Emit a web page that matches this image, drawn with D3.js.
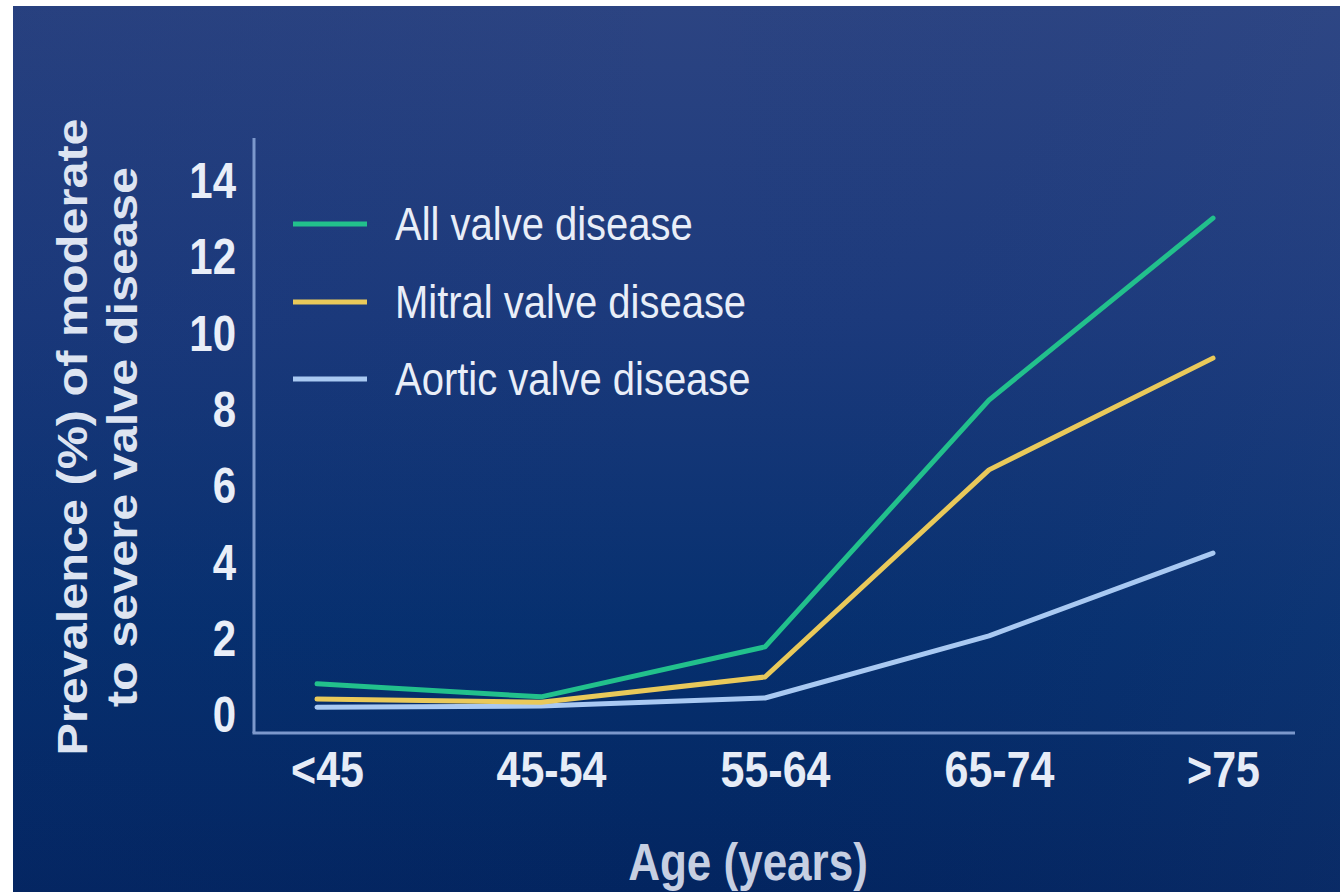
<!DOCTYPE html>
<html>
<head>
<meta charset="utf-8">
<script src="https://cdn.jsdelivr.net/npm/d3@7"></script>
<style>
html,body{margin:0;padding:0;background:#ffffff;}
svg{display:block;}
</style>
</head>
<body>
<svg id="chart" width="1340" height="892"></svg>
<script>
const categories = ["<45", "45-54", "55-64", "65-74", ">75"];
const allValve    = [0.79, 0.45, 1.76, 8.23, 13.0];
const mitralValve = [0.39, 0.31, 0.97, 6.40, 9.33];
const aorticValve = [0.18, 0.21, 0.42, 2.05, 4.22];
const yTicks = [0, 2, 4, 6, 8, 10, 12, 14];
const seriesNames = ["All valve disease", "Mitral valve disease", "Aortic valve disease"];
const seriesColors = ["#22c08c", "#e9c95a", "#a9c9f2"];

const series = [allValve, mitralValve, aorticValve];
const SY = 1.17;
const FONT = "'Liberation Sans', Arial, Helvetica, sans-serif";

const svg = d3.select("#chart");
const defs = svg.append("defs");
const g1 = defs.append("linearGradient").attr("id", "bg").attr("x1", 0).attr("y1", 0).attr("x2", 0).attr("y2", 1);
g1.append("stop").attr("offset", "0%").attr("stop-color", "#2c4482");
g1.append("stop").attr("offset", "35%").attr("stop-color", "#1c3a7c");
g1.append("stop").attr("offset", "70%").attr("stop-color", "#06306f");
g1.append("stop").attr("offset", "100%").attr("stop-color", "#032560");
const g2 = defs.append("linearGradient").attr("id", "bgh").attr("x1", 0).attr("y1", 0).attr("x2", 1).attr("y2", 0);
g2.append("stop").attr("offset", "0%").attr("stop-color", "#0e2c70").attr("stop-opacity", 0.15);
g2.append("stop").attr("offset", "50%").attr("stop-color", "#0e2c70").attr("stop-opacity", 0);
g2.append("stop").attr("offset", "100%").attr("stop-color", "#3c5592").attr("stop-opacity", 0.12);

svg.append("rect").attr("x", 13).attr("y", 6).attr("width", 1327).attr("height", 886).attr("fill", "url(#bg)");
svg.append("rect").attr("x", 13).attr("y", 6).attr("width", 1327).attr("height", 886).attr("fill", "url(#bgh)");

const x = d3.scalePoint().domain(categories).range([317, 1213]);
const y = d3.scaleLinear().domain([0, 14]).range([714, 180]);

const axisColor = "#7c98cc";
const frameLeft = 254, frameRight = 1295;
const frameTop = y(15.1), frameBottom = y(-0.5);

// axis lines
svg.append("line").attr("x1", frameLeft).attr("x2", frameLeft).attr("y1", frameTop).attr("y2", frameBottom)
  .attr("stroke", axisColor).attr("stroke-width", 3);
svg.append("line").attr("x1", frameLeft - 1.5).attr("x2", frameRight).attr("y1", frameBottom).attr("y2", frameBottom)
  .attr("stroke", axisColor).attr("stroke-width", 3);

// y axis ticks
const yAxis = svg.append("g").attr("transform", "translate(236,0)")
  .call(d3.axisLeft(y).tickValues(yTicks).tickSize(0).tickPadding(0).tickFormat(d3.format("d")));
yAxis.select(".domain").remove();
yAxis.selectAll("text")
  .attr("x", 0).attr("dy", "0.36em")
  .attr("transform", `scale(1,${SY})`)
  .attr("text-anchor", "end")
  .style("font-family", FONT).style("font-weight", "bold").style("font-size", "42px")
  .attr("fill", "#e9eef8");

// x axis ticks
const xAxis = svg.append("g").attr("transform", "translate(10,787)")
  .call(d3.axisBottom(x).tickSize(0).tickPadding(0));
xAxis.select(".domain").remove();
xAxis.selectAll("text")
  .attr("y", 0).attr("dy", 0)
  .attr("transform", `scale(1,${SY})`)
  .style("font-family", FONT).style("font-weight", "bold").style("font-size", "43px")
  .attr("fill", "#e6ecf7");

// lines
const line = d3.line().x((d, i) => x(categories[i])).y(d => y(d));
series.slice().reverse().forEach((s, ri) => {
  const i = series.length - 1 - ri;
  svg.append("path").datum(s).attr("d", line)
    .attr("fill", "none").attr("stroke", seriesColors[i]).attr("stroke-width", 5)
    .attr("stroke-linejoin", "round").attr("stroke-linecap", "round");
});

// legend
const legendY = [224, 302, 379];
seriesNames.forEach((name, i) => {
  svg.append("line").attr("x1", 293).attr("x2", 367).attr("y1", legendY[i]).attr("y2", legendY[i])
    .attr("stroke", seriesColors[i]).attr("stroke-width", 5);
  svg.append("text")
    .attr("transform", `translate(395,${legendY[i] + 16}) scale(1,${SY})`)
    .style("font-family", FONT).style("font-size", "40px")
    .attr("fill", "#e9eef8").text(name);
});

// y title
const yTitle = ["Prevalence (%) of moderate", "to severe valve disease"];
const yTitleX = [87, 137];
yTitle.forEach((t, i) => {
  svg.append("text")
    .attr("transform", `translate(${yTitleX[i]},437) rotate(-90) scale(1.13,1)`)
    .attr("text-anchor", "middle")
    .style("font-family", FONT).style("font-weight", "bold").style("font-size", "43px")
    .attr("fill", "#dde4f1").text(t);
});

// x title
svg.append("text")
  .attr("transform", `translate(748,880) scale(1,${SY})`)
  .attr("text-anchor", "middle")
  .style("font-family", FONT).style("font-weight", "bold").style("font-size", "44px")
  .attr("fill", "#c6cfe2").text("Age (years)");
</script>
</body>
</html>
